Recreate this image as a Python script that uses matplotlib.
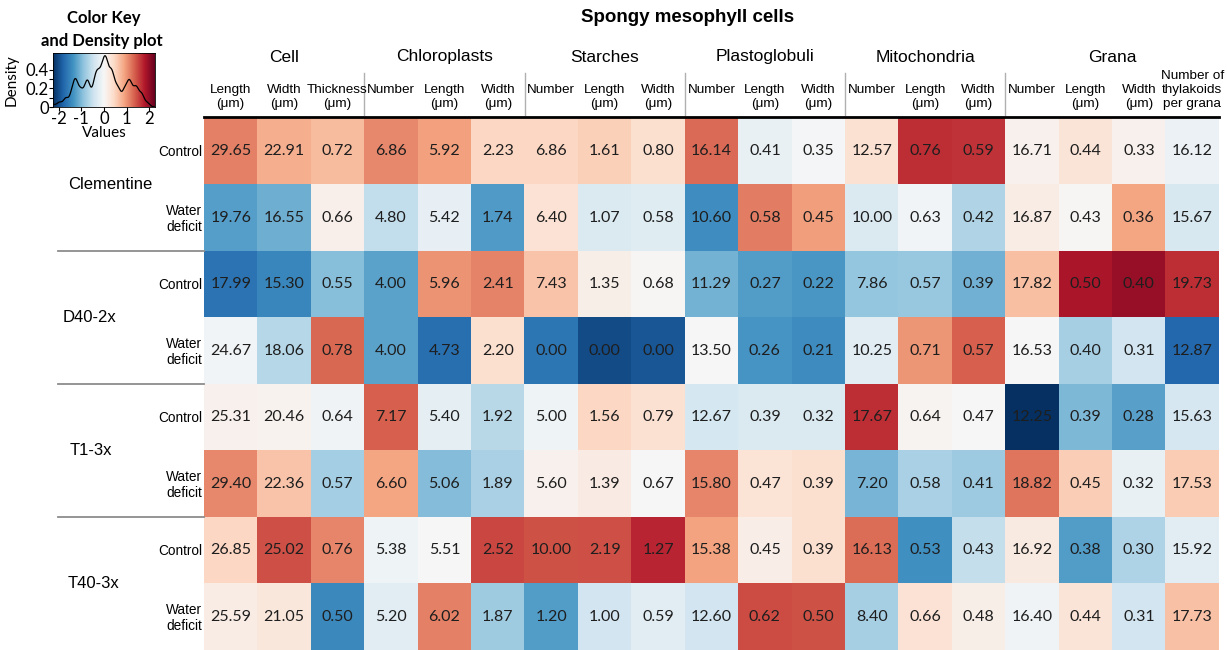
import numpy as np
import matplotlib
matplotlib.use("Agg")
import matplotlib.pyplot as plt
from matplotlib.lines import Line2D

# ---------------- data ----------------
title = "Spongy mesophyll cells"
groups = ["Cell", "Chloroplasts", "Starches", "Plastoglobuli", "Mitochondria", "Grana"]
group_sizes = [3, 3, 3, 3, 3, 4]
col_labels = ["Length\n(μm)", "Width\n(μm)", "Thickness\n(μm)",
              "Number", "Length\n(μm)", "Width\n(μm)",
              "Number", "Length\n(μm)", "Width\n(μm)",
              "Number", "Length\n(μm)", "Width\n(μm)",
              "Number", "Length\n(μm)", "Width\n(μm)",
              "Number", "Length\n(μm)", "Width\n(μm)", "Number of\nthylakoids\nper grana"]
genotypes = ["Clementine", "D40-2x", "T1-3x", "T40-3x"]
conditions = ["Control", "Water\ndeficit"]

clementine_control = [29.65, 22.91, 0.72, 6.86, 5.92, 2.23, 6.86, 1.61, 0.80, 16.14, 0.41, 0.35, 12.57, 0.76, 0.59, 16.71, 0.44, 0.33, 16.12]
clementine_deficit = [19.76, 16.55, 0.66, 4.80, 5.42, 1.74, 6.40, 1.07, 0.58, 10.60, 0.58, 0.45, 10.00, 0.63, 0.42, 16.87, 0.43, 0.36, 15.67]
d40_control = [17.99, 15.30, 0.55, 4.00, 5.96, 2.41, 7.43, 1.35, 0.68, 11.29, 0.27, 0.22, 7.86, 0.57, 0.39, 17.82, 0.50, 0.40, 19.73]
d40_deficit = [24.67, 18.06, 0.78, 4.00, 4.73, 2.20, 0.00, 0.00, 0.00, 13.50, 0.26, 0.21, 10.25, 0.71, 0.57, 16.53, 0.40, 0.31, 12.87]
t1_control = [25.31, 20.46, 0.64, 7.17, 5.40, 1.92, 5.00, 1.56, 0.79, 12.67, 0.39, 0.32, 17.67, 0.64, 0.47, 12.25, 0.39, 0.28, 15.63]
t1_deficit = [29.40, 22.36, 0.57, 6.60, 5.06, 1.89, 5.60, 1.39, 0.67, 15.80, 0.47, 0.39, 7.20, 0.58, 0.41, 18.82, 0.45, 0.32, 17.53]
t40_control = [26.85, 25.02, 0.76, 5.38, 5.51, 2.52, 10.00, 2.19, 1.27, 15.38, 0.45, 0.39, 16.13, 0.53, 0.43, 16.92, 0.38, 0.30, 15.92]
t40_deficit = [25.59, 21.05, 0.50, 5.20, 6.02, 1.87, 1.20, 1.00, 0.59, 12.60, 0.62, 0.50, 8.40, 0.66, 0.48, 16.40, 0.44, 0.31, 17.73]

rows = [clementine_control, clementine_deficit, d40_control, d40_deficit,
        t1_control, t1_deficit, t40_control, t40_deficit]
values = np.array(rows)

# column-scaled values (z-scores), as in heatmap.2 scale="column"
z = (values - values.mean(axis=0)) / values.std(axis=0, ddof=1)
zmax = np.abs(z).max()

# ---------------- figure ----------------
W, H = 1227, 650
fig = plt.figure(figsize=(W / 100, H / 100), dpi=100)
plt.rcParams['font.family'] = ['Liberation Sans', 'DejaVu Sans']
LATO = ["Lato", "DejaVu Sans"]

def fx(x):
    return x / W

def fy(y):
    return 1 - y / H

cmap = plt.get_cmap("RdBu_r")
hx0, hx1, hy0, hy1 = 204, 1219, 118, 650
ncol, nrow = values.shape[1], values.shape[0]
cw = (hx1 - hx0) / ncol
rh = (hy1 - hy0) / nrow

ax = fig.add_axes([fx(hx0), fy(hy1), fx(hx1) - fx(hx0), fy(hy0) - fy(hy1)])
ax.imshow(z, cmap=cmap, vmin=-zmax, vmax=zmax, aspect="auto", interpolation="nearest")
for i in range(nrow):
    for j in range(ncol):
        ax.text(j, i, f"{values[i, j]:.2f}", ha="center", va="center",
                fontsize=11.5, color="#1e1e1e", family=LATO)
ax.set_xticks([])
ax.set_yticks([])
for s in ax.spines.values():
    s.set_visible(False)

# title
fig.text(fx(688), fy(18), title, ha="center", va="center",
         fontsize=13.5, fontweight="bold")

# group headers
start = 0
for g, n in zip(groups, group_sizes):
    cx = hx0 + (start + n / 2) * cw
    fig.text(fx(cx), fy(57), g, ha="center", va="center", fontsize=12.5)
    if start > 0:
        fig.add_artist(Line2D([fx(hx0 + start * cw)] * 2, [fy(73), fy(115)],
                              color="#b0b0b0", lw=1))
    start += n

# column labels (each line placed separately)
for j, lab in enumerate(col_labels):
    cx = hx0 + (j + 0.5) * cw
    lines = lab.split("\n")
    if len(lines) == 1:
        ys = [90]
    else:
        ys = [104 - 14 * (len(lines) - 1 - k) for k in range(len(lines))]
    for line, yy in zip(lines, ys):
        fig.text(fx(cx), fy(yy), line, ha="center", va="center", fontsize=9.7)

# black header rule
fig.add_artist(Line2D([fx(hx0), fx(hx1)], [fy(117), fy(117)], color="black", lw=2))

# row labels
for i in range(nrow):
    cy = hy0 + (i + 0.5) * rh
    fig.text(fx(hx0 - 2), fy(cy + 1), conditions[i % 2], ha="right", va="center",
             fontsize=9.8, linespacing=1.15)

geno_x = [110, 89, 91, 93]
for k, g in enumerate(genotypes):
    cy = hy0 + (2 * k + 1) * rh
    fig.text(fx(geno_x[k]), fy(cy), g, ha="center", va="center", fontsize=12)
    if k > 0:
        ys = hy0 + 2 * k * rh
        fig.add_artist(Line2D([fx(58), fx(hx0)], [fy(ys), fy(ys)], color="#8c8c8c", lw=1.3))

# ---------------- color key with density ----------------
kx0, kx1, ky0, ky1 = 53, 155, 53, 107
kax = fig.add_axes([fx(kx0), fy(ky1), fx(kx1) - fx(kx0), fy(ky0) - fy(ky1)])
grad = np.linspace(-zmax, zmax, 256).reshape(1, -1)
kax.imshow(grad, cmap=cmap, vmin=-zmax, vmax=zmax, aspect="auto",
           extent=[-zmax, zmax, 0, 1], interpolation="bilinear")

zf = z.ravel()
n = zf.size
sd = zf.std(ddof=1)
iqr = np.subtract(*np.percentile(zf, [75, 25]))
bw = 0.32 * 0.9 * min(sd, iqr / 1.34) * n ** (-0.2)
gx = np.linspace(zf.min() - 3 * bw, zf.max() + 3 * bw, 512)
dens = np.exp(-0.5 * ((gx[:, None] - zf[None, :]) / bw) ** 2).sum(axis=1) / (n * bw * np.sqrt(2 * np.pi))
scale = 0.95 / dens.max()
kax.plot(gx, dens * scale, color="black", lw=0.9)
kax.set_xlim(-zmax, zmax)
kax.set_ylim(0, 1)
yt = np.arange(0, 0.45, 0.1)
kax.set_yticks(yt * scale)
kax.set_yticklabels(["0", "", "0.2", "", "0.4"])
kax.set_xticks([-2, -1, 0, 1, 2])
kax.set_xticklabels(["-2", "-1", "0", "1", "2"])
kax.tick_params(labelsize=12, length=3, width=0.8, pad=0)
for lab in kax.get_xticklabels() + kax.get_yticklabels():
    lab.set_family(LATO)
for s in kax.spines.values():
    s.set_linewidth(0.6)

fig.text(fx(104), fy(18), "Color Key", ha="center", va="center", fontsize=12,
         fontweight="bold", family=LATO)
fig.text(fx(102), fy(41), "and Density plot", ha="center", va="center", fontsize=12,
         fontweight="bold", family=LATO)
fig.text(fx(104), fy(133), "Values", ha="center", va="center", fontsize=11,
         family=LATO)
fig.text(fx(12), fy(80), "Density", ha="center", va="center", fontsize=11,
         rotation=90, family=LATO)

fig.savefig("out.png", dpi=100)
